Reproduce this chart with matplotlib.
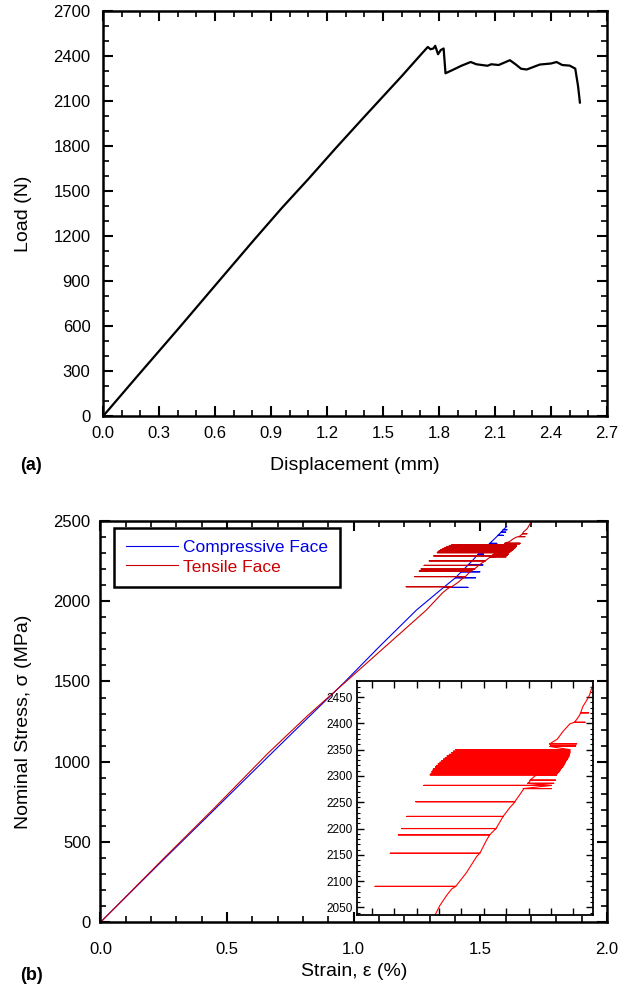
import numpy as np
import matplotlib
matplotlib.use("Agg")
import matplotlib.pyplot as plt
from matplotlib.ticker import MultipleLocator, NullFormatter

plt.rcParams['font.family'] = ['Liberation Sans', 'DejaVu Sans']

# ---- panel (a): load vs displacement ----
disp_mm = [0, 0.2, 0.41, 0.6, 0.81, 0.96, 1.1, 1.25, 1.40, 1.50, 1.60, 1.70, 1.74,
           1.755, 1.77, 1.78, 1.795, 1.81, 1.825, 1.835, 1.87, 1.92, 1.97, 2.0, 2.06,
           2.08, 2.12, 2.18, 2.21, 2.24, 2.27, 2.34, 2.40, 2.43, 2.46, 2.50, 2.53,
           2.545, 2.555]
load_n = [0, 290, 592, 870, 1176, 1390, 1580, 1790, 1995, 2130, 2265, 2405, 2460,
          2445, 2450, 2468, 2412, 2440, 2450, 2285, 2305, 2335, 2360, 2345, 2335,
          2345, 2340, 2372, 2345, 2315, 2310, 2343, 2350, 2360, 2340, 2336, 2316,
          2200, 2090]

# ---- panel (b): stress vs strain, base curves ----
comp_strain = [0, 0.25, 0.45, 0.674, 0.82, 0.96, 1.1, 1.248, 1.355, 1.406, 1.47, 1.538, 1.604]
comp_stress = [0, 392, 702, 1050, 1275, 1490, 1715, 1945, 2086, 2153, 2255, 2361, 2464]

tens_strain = [0, 0.25, 0.45, 0.661, 0.82, 0.97, 1.13, 1.287, 1.352, 1.367, 1.378, 1.387,
               1.411, 1.434, 1.441, 1.456, 1.463, 1.477, 1.493, 1.508, 1.519, 1.538,
               1.553, 1.567, 1.582, 1.597, 1.614, 1.627, 1.642, 1.657, 1.664, 1.671,
               1.679, 1.686, 1.692, 1.70]
tens_stress = [0, 398, 712, 1052, 1290, 1500, 1725, 1945, 2054, 2073, 2085, 2090,
               2116, 2147, 2153, 2178, 2188, 2200, 2223, 2240, 2250, 2274,
               2290, 2302, 2327, 2356, 2370, 2385, 2399, 2407, 2416, 2432,
               2443, 2454, 2470, 2492]

# gauge jumps: (stress, strain on curve, strain reached)
tens_jump_stress = [2090, 2153, 2188, 2200, 2223, 2251, 2276, 2282, 2286, 2292,
                    2302, 2305, 2308, 2311, 2314, 2317, 2320, 2323, 2326, 2329,
                    2332, 2335, 2338, 2341, 2344, 2347, 2350, 2357, 2361, 2402,
                    2420]
tens_jump_from = [1.387, 1.441, 1.463, 1.477, 1.493, 1.519, 1.538, 1.601, 1.548, 1.553,
                  1.612, 1.614, 1.618, 1.620, 1.622, 1.626, 1.628, 1.630, 1.632, 1.634,
                  1.636, 1.638, 1.640, 1.641, 1.642, 1.642, 1.642, 1.600, 1.597, 1.652,
                  1.666]
tens_jump_to = [1.207, 1.241, 1.259, 1.266, 1.278, 1.298, 1.601, 1.316, 1.606, 1.610,
                1.330, 1.332, 1.334, 1.336, 1.338, 1.342, 1.345, 1.348, 1.352, 1.356,
                1.360, 1.364, 1.368, 1.373, 1.378, 1.382, 1.387, 1.655, 1.657, 1.676,
                1.684]

comp_jump_stress = [2086, 2146, 2183, 2226, 2285, 2292, 2298, 2352, 2360, 2410, 2430, 2445]
comp_jump_from = [1.355, 1.402, 1.425, 1.452, 1.487, 1.492, 1.496, 1.532, 1.537, 1.570, 1.582, 1.590]
comp_jump_to = [1.451, 1.481, 1.498, 1.510, 1.510, 1.512, 1.510, 1.565, 1.565, 1.590, 1.600, 1.605]


def build_path(strain, stress, j_stress, j_from, j_to):
    items = [(s, 0, [e]) for e, s in zip(strain, stress)]
    items += [(s, 1, [a, b, a]) for s, a, b in zip(j_stress, j_from, j_to)]
    items.sort(key=lambda t: (t[0], t[1]))
    xs, ys = [], []
    for s, _, pts in items:
        for p in pts:
            xs.append(p)
            ys.append(s)
    return np.array(xs), np.array(ys)


tx, ty = build_path(tens_strain, tens_stress, tens_jump_stress, tens_jump_from, tens_jump_to)
cx, cy = build_path(comp_strain, comp_stress, comp_jump_stress, comp_jump_from, comp_jump_to)

fig = plt.figure(figsize=(6.2, 9.96), dpi=100)


def style_axes(ax, lw=1.8, maj=7, mnr=4, lab=12):
    for sp in ax.spines.values():
        sp.set_linewidth(lw)
    ax.tick_params(which='both', direction='in', top=True, right=True, labelsize=lab)
    ax.tick_params(which='major', length=maj, width=1.5, pad=5)
    ax.tick_params(which='minor', length=mnr, width=1.2)


# panel (a)
ax1 = fig.add_axes([0.166, 0.582, 0.813, 0.407])
ax1.plot(disp_mm, load_n, color='black', lw=1.6)
ax1.set_xlim(0, 2.7)
ax1.set_ylim(0, 2700)
ax1.xaxis.set_major_locator(MultipleLocator(0.3))
ax1.xaxis.set_minor_locator(MultipleLocator(0.1))
ax1.yaxis.set_major_locator(MultipleLocator(300))
ax1.yaxis.set_minor_locator(MultipleLocator(100))
ax1.xaxis.set_major_formatter(plt.FormatStrFormatter('%.1f'))
style_axes(ax1)
ax1.tick_params(axis='x', which='major', pad=7)
ax1.tick_params(axis='y', which='major', pad=9)
ax1.set_xlabel('Displacement (mm)', fontsize=14)
ax1.set_ylabel('Load (N)', fontsize=14)
ax1.xaxis.set_label_coords(0.5, -0.1)
ax1.yaxis.set_label_coords(-0.14, 0.5)
fig.text(0.032, 0.533, '(a)', fontsize=13, fontweight='bold', va='center')

# panel (b)
ax2 = fig.add_axes([0.162, 0.074, 0.817, 0.403])
ax2.plot(cx, cy, color='#0000e6', lw=0.8, label='Compressive Face')
ax2.plot(tx, ty, color='#cc0000', lw=0.8, label='Tensile Face')
ax2.set_xlim(0, 2.0)
ax2.set_ylim(0, 2500)
ax2.xaxis.set_major_locator(MultipleLocator(0.5))
ax2.xaxis.set_minor_locator(MultipleLocator(0.1))
ax2.yaxis.set_major_locator(MultipleLocator(500))
ax2.yaxis.set_minor_locator(MultipleLocator(100))
ax2.xaxis.set_major_formatter(plt.FormatStrFormatter('%.1f'))
style_axes(ax2)
ax2.tick_params(axis='x', which='major', pad=14)
ax2.tick_params(axis='y', which='major', pad=7)
ax2.set_xlabel('Strain, ε (%)', fontsize=14)
ax2.set_ylabel('Nominal Stress, σ (MPa)', fontsize=14)
ax2.xaxis.set_label_coords(0.5, -0.102)
ax2.yaxis.set_label_coords(-0.135, 0.5)
leg = ax2.legend(loc='upper left', bbox_to_anchor=(0.026, 0.983), borderaxespad=0,
                 fontsize=12.5, handlelength=3.0, handletextpad=0.3, labelcolor='linecolor',
                 fancybox=False, framealpha=1, edgecolor='black', borderpad=0.7,
                 labelspacing=0.25)
leg.get_frame().set_linewidth(1.8)
fig.text(0.032, 0.021, '(b)', fontsize=13, fontweight='bold', va='center')

# inset
ax3 = fig.add_axes([0.576, 0.081, 0.380, 0.235])
ax3.plot(tx, ty, color='#ff0000', lw=0.8)
ax3.set_xlim(1.167, 1.693)
ax3.set_ylim(2035, 2480)
ax3.yaxis.set_major_locator(MultipleLocator(50))
ax3.yaxis.set_minor_locator(MultipleLocator(10))
ax3.xaxis.set_major_locator(MultipleLocator(0.05))
ax3.xaxis.set_major_formatter(NullFormatter())
style_axes(ax3, lw=1.3, maj=5, mnr=2.5, lab=8.5)
ax3.tick_params(which='major', width=1.0, pad=3)
ax3.tick_params(which='minor', width=0.8)

fig.savefig('out.png', dpi=100)
